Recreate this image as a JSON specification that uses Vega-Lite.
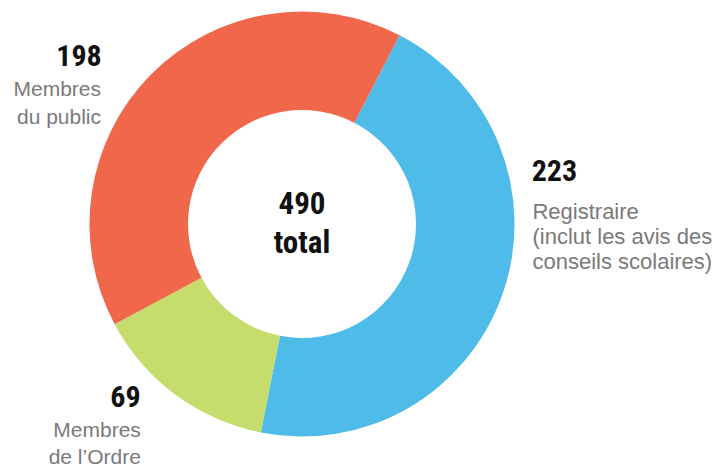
{
  "$schema": "https://vega.github.io/schema/vega-lite/v6.json",
  "width": 604,
  "height": 448,
  "autosize": {"type": "none"},
  "padding": {"left": 0, "top": 0, "right": 114, "bottom": 20},
  "background": "white",
  "config": {"view": {"stroke": null}},
  "layer": [
    {
      "data": {
        "values": [
          {"categorie": "Registraire", "n": 223, "ordre": 1, "label": "Registraire\n(inclut les avis des\nconseils scolaires)"},
          {"categorie": "Membres de l’Ordre", "n": 69, "ordre": 2, "label": "Membres\nde l’Ordre"},
          {"categorie": "Membres du public", "n": 198, "ordre": 3, "label": "Membres\ndu public"}
        ]
      },
      "encoding": {
        "theta": {"field": "n", "type": "quantitative", "stack": true, "scale": {"range": [0.477, 6.7602]}},
        "order": {"field": "ordre", "type": "ordinal"}
      },
      "layer": [
        {
          "mark": {"type": "arc", "innerRadius": 114, "outerRadius": 212.5, "stroke": null},
          "encoding": {
            "color": {
              "field": "categorie",
              "type": "nominal",
              "scale": {
                "domain": ["Registraire", "Membres de l’Ordre", "Membres du public"],
                "range": ["#4FBBE8", "#C6DC6C", "#F0674B"]
              },
              "legend": null
            }
          }
        },
        {
          "mark": {"type": "text", "radius": 212, "align": "left", "baseline": "alphabetic", "dx": 29.5, "dy": -113, "font": "Roboto Condensed, Liberation Sans Narrow, Arial Narrow, DejaVu Sans Condensed, sans-serif", "fontWeight": "bold", "fontSize": 30, "color": "#111111"},
          "encoding": {"text": {"condition": {"test": "datum.ordre == 1", "field": "n", "type": "quantitative"}, "value": ""}}
        },
        {
          "mark": {"type": "text", "radius": 212, "align": "left", "baseline": "alphabetic", "dx": 30.3, "dy": -74.7, "font": "Liberation Sans, Arial, sans-serif", "fontSize": 22, "lineHeight": 25, "lineBreak": "\n", "color": "#7a7a7a"},
          "encoding": {"text": {"condition": {"test": "datum.ordre == 1", "field": "label", "type": "nominal"}, "value": ""}}
        },
        {
          "mark": {"type": "text", "radius": 212, "align": "right", "baseline": "alphabetic", "dx": -35.2, "dy": 12.9, "font": "Roboto Condensed, Liberation Sans Narrow, Arial Narrow, DejaVu Sans Condensed, sans-serif", "fontWeight": "bold", "fontSize": 30, "color": "#111111"},
          "encoding": {"text": {"condition": {"test": "datum.ordre == 2", "field": "n", "type": "quantitative"}, "value": ""}}
        },
        {
          "mark": {"type": "text", "radius": 212, "align": "right", "baseline": "alphabetic", "dx": -35, "dy": 42.3, "font": "Liberation Sans, Arial, sans-serif", "fontSize": 21, "lineHeight": 27.6, "lineBreak": "\n", "color": "#7a7a7a"},
          "encoding": {"text": {"condition": {"test": "datum.ordre == 2", "field": "label", "type": "nominal"}, "value": ""}}
        },
        {
          "mark": {"type": "text", "radius": 212, "align": "right", "baseline": "alphabetic", "dx": -49.3, "dy": -8.7, "font": "Roboto Condensed, Liberation Sans Narrow, Arial Narrow, DejaVu Sans Condensed, sans-serif", "fontWeight": "bold", "fontSize": 30, "color": "#111111"},
          "encoding": {"text": {"condition": {"test": "datum.ordre == 3", "field": "n", "type": "quantitative"}, "value": ""}}
        },
        {
          "mark": {"type": "text", "radius": 212, "align": "right", "baseline": "alphabetic", "dx": -50, "dy": 21.3, "font": "Liberation Sans, Arial, sans-serif", "fontSize": 21, "lineHeight": 27.6, "lineBreak": "\n", "color": "#7a7a7a"},
          "encoding": {"text": {"condition": {"test": "datum.ordre == 3", "field": "label", "type": "nominal"}, "value": ""}}
        }
      ]
    },
    {
      "data": {"values": [{"texte": "490\ntotal"}]},
      "mark": {"type": "text", "align": "center", "baseline": "alphabetic", "dy": -9.7, "lineHeight": 38.4, "lineBreak": "\n", "font": "Roboto Condensed, Liberation Sans Narrow, Arial Narrow, DejaVu Sans Condensed, sans-serif", "fontWeight": "bold", "fontSize": 31, "color": "#111111"},
      "encoding": {"text": {"field": "texte", "type": "nominal"}}
    }
  ]
}
